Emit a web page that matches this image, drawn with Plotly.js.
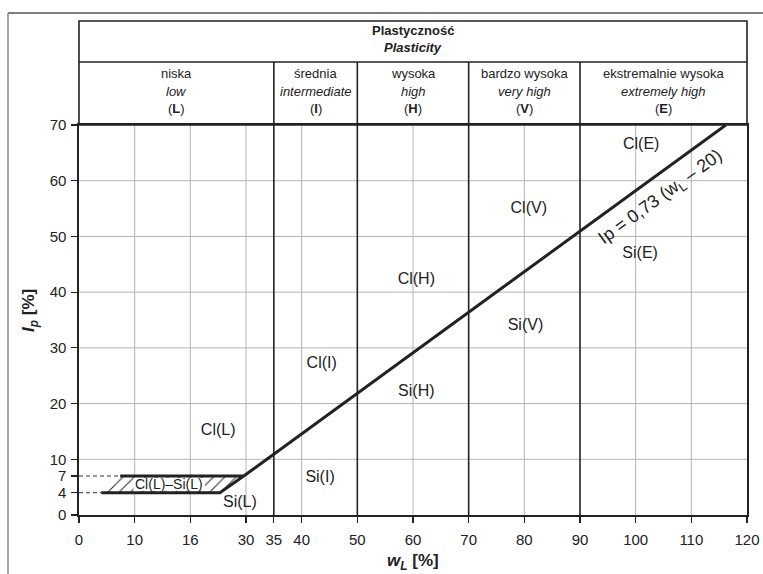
<!DOCTYPE html>
<html>
<head>
<meta charset="utf-8">
<script src="https://cdn.plot.ly/plotly-3.0.1.min.js"></script>
<style>html,body{margin:0;padding:0;background:#fff;}#chart{width:763px;height:574px;}</style>
</head>
<body>
<div id="chart"></div>
<script>
// ---- data ----
const xTickVals = [0, 10, 20, 30, 35, 40, 50, 60, 70, 80, 90, 100, 110, 120];
const xTickText = ['0', '10', '16', '30', '35', '40', '50', '60', '70', '80', '90', '100', '110', '120'];
const yTickVals = [0, 4, 7, 10, 20, 30, 40, 50, 60, 70];
const gridX = [10, 20, 30, 40, 60, 80, 100, 110];
const gridY = [10, 20, 30, 40, 50, 60];
const classBounds = [35, 50, 70, 90];

const aLineX = [29.6, 116.2];
const aLineY = [7, 70];

const hatchX = [4, 25.3, 29.6, 7.4, 4];
const hatchY = [4, 4, 7, 7, 4];
const hatchEdgeX = [4, 25.3, 29.6, 7.4];
const hatchEdgeY = [4, 4, 7, 7];

const dash7X = [0, 7.4], dash7Y = [7, 7];
const dash4X = [0, 4], dash4Y = [4, 4];

const zoneLabels = ['Cl(L)', 'Si(L)', 'Cl(I)', 'Si(I)', 'Cl(H)', 'Si(H)', 'Cl(V)', 'Si(V)', 'Cl(E)', 'Si(E)'];
const zoneX = [25.0, 28.9, 43.6, 43.3, 60.6, 60.6, 80.8, 80.2, 101.0, 100.8];
const zoneY = [15.1, 2.2, 27.1, 6.6, 42.2, 22.0, 54.9, 33.9, 66.4, 46.8];

const bandLabel = 'Cl(L)–Si(L)';
const bandX = 16.2, bandY = 5.5;
const bandBoxX = [9.8, 22.6], bandBoxY = [4.35, 6.65];

const lineLabel = 'Ip = 0,73 (w<sub>L</sub> – 20)';
const lineLabelX = 104.6, lineLabelY = 57.0;

const colCenters = [17.5, 42.5, 60, 80, 105];
const colPl = ['niska', 'średnia', 'wysoka', 'bardzo wysoka', 'ekstremalnie wysoka'];
const colEn = ['low', 'intermediate', 'high', 'very high', 'extremely high'];
const colCode = ['L', 'I', 'H', 'V', 'E'];
const headerTitlePl = 'Plastyczność';
const headerTitleEn = 'Plasticity';

// ---- styling ----
const FONT = '"Liberation Sans", Arial, sans-serif';
const INK = '#222';
const GRID = '#b4b4b4';

// paper coordinates (plot area: left 79px, right 747px, top 125px, bottom 515px)
const pY = py => (515 - py) / 390;
const pX = px => (px - 79) / 668;

const traces = [
  {
    x: hatchX, y: hatchY, mode: 'lines', fill: 'toself',
    fillcolor: 'white',
    fillpattern: {shape: '/', fgcolor: '#333', bgcolor: 'white', size: 8, solidity: 0.14},
    line: {width: 0}, hoverinfo: 'skip'
  },
  {x: hatchEdgeX, y: hatchEdgeY, mode: 'lines', line: {color: INK, width: 3}, hoverinfo: 'skip'},
  {x: aLineX, y: aLineY, mode: 'lines', line: {color: INK, width: 3}, hoverinfo: 'skip'},
  {x: dash7X, y: dash7Y, mode: 'lines', line: {color: '#333', width: 1, dash: '4px,3px'}, hoverinfo: 'skip'},
  {x: dash4X, y: dash4Y, mode: 'lines', line: {color: '#333', width: 1, dash: '4px,3px'}, hoverinfo: 'skip'},
  {
    x: zoneX, y: zoneY, text: zoneLabels, mode: 'text', textposition: 'middle center',
    textfont: {family: FONT, size: 16, color: INK}, hoverinfo: 'skip', cliponaxis: false
  }
];

const shapes = [];
gridX.forEach(v => shapes.push({type: 'line', xref: 'x', yref: 'y', x0: v, x1: v, y0: 0, y1: 70, line: {color: GRID, width: 1}, layer: 'below'}));
gridY.forEach(v => shapes.push({type: 'line', xref: 'x', yref: 'y', x0: 0, x1: 120, y0: v, y1: v, line: {color: GRID, width: 1}, layer: 'below'}));
classBounds.forEach(v => shapes.push({type: 'line', xref: 'x', yref: 'paper', x0: v, x1: v, y0: 0, y1: pY(62), line: {color: INK, width: 1.6}, layer: 'above'}));
// white box behind the band label (between the two thick lines)
shapes.push({type: 'rect', xref: 'x', yref: 'y', x0: bandBoxX[0], x1: bandBoxX[1], y0: bandBoxY[0], y1: bandBoxY[1], line: {width: 0}, fillcolor: 'white', layer: 'above'});
// header box
shapes.push({type: 'rect', xref: 'paper', yref: 'paper', x0: 0, x1: 1, y0: 1, y1: pY(21), line: {color: INK, width: 1.6}, fillcolor: 'rgba(0,0,0,0)'});
shapes.push({type: 'line', xref: 'paper', yref: 'paper', x0: 0, x1: 1, y0: pY(62), y1: pY(62), line: {color: INK, width: 1.6}});
// outer frame (top and left)
shapes.push({type: 'line', xref: 'paper', yref: 'paper', x0: pX(8), x1: pX(763), y0: pY(13), y1: pY(13), line: {color: '#555', width: 1.5}});
shapes.push({type: 'line', xref: 'paper', yref: 'paper', x0: pX(8), x1: pX(8), y0: pY(13), y1: pY(580), line: {color: '#888', width: 1.5}});

const annotations = [];
const HF = {family: FONT, size: 13, color: INK};
annotations.push({xref: 'x', yref: 'paper', x: 60, y: pY(31), text: '<b>' + headerTitlePl + '</b>', showarrow: false, font: HF, yanchor: 'middle'});
annotations.push({xref: 'x', yref: 'paper', x: 60, y: pY(47), text: '<b><i>' + headerTitleEn + '</i></b>', showarrow: false, font: HF, yanchor: 'middle'});
colCenters.forEach((c, i) => {
  annotations.push({xref: 'x', yref: 'paper', x: c, y: pY(73), text: colPl[i], showarrow: false, font: HF, yanchor: 'middle'});
  annotations.push({xref: 'x', yref: 'paper', x: c, y: pY(91), text: '<i>' + colEn[i] + '</i>', showarrow: false, font: HF, yanchor: 'middle'});
  annotations.push({xref: 'x', yref: 'paper', x: c, y: pY(109), text: '(<b>' + colCode[i] + '</b>)', showarrow: false, font: HF, yanchor: 'middle'});
});
annotations.push({xref: 'x', yref: 'y', x: bandX, y: bandY, text: bandLabel, showarrow: false, font: {family: FONT, size: 14, color: INK}});
annotations.push({xref: 'x', yref: 'y', x: lineLabelX, y: lineLabelY, text: lineLabel, textangle: -36, showarrow: false, font: {family: FONT, size: 18, color: INK}});
annotations.push({xref: 'paper', yref: 'paper', x: 0.5, y: pY(562), text: '<b><i>w</i><sub><i>L</i></sub> [%]</b>', showarrow: false, font: {family: FONT, size: 17, color: INK}, yanchor: 'middle'});
annotations.push({xref: 'paper', yref: 'paper', x: pX(30), y: pY(311), text: '<b><i>I<sub>p</sub></i> [%]</b>', textangle: -90, showarrow: false, font: {family: FONT, size: 17, color: INK}, xanchor: 'center', yanchor: 'middle'});

const axisCommon = {
  showgrid: false, zeroline: false, showline: true, mirror: true,
  linecolor: INK, linewidth: 1.6, ticks: 'outside', ticklen: 6, tickcolor: INK, tickwidth: 1.2,
  tickfont: {family: FONT, size: 15, color: INK}, fixedrange: true
};

const layout = {
  width: 763, height: 574,
  margin: {l: 79, r: 16, t: 125, b: 59},
  paper_bgcolor: 'white', plot_bgcolor: 'white',
  showlegend: false,
  xaxis: Object.assign({}, axisCommon, {range: [0, 120], tickmode: 'array', tickvals: xTickVals, ticktext: xTickText, ticklabelstandoff: 4}),
  yaxis: Object.assign({}, axisCommon, {range: [0, 70], tickmode: 'array', tickvals: yTickVals, ticktext: yTickVals.map(String), ticklabelstandoff: 2}),
  shapes: shapes,
  annotations: annotations
};

Plotly.newPlot('chart', traces, layout, {displayModeBar: false, staticPlot: true});
</script>
</body>
</html>
